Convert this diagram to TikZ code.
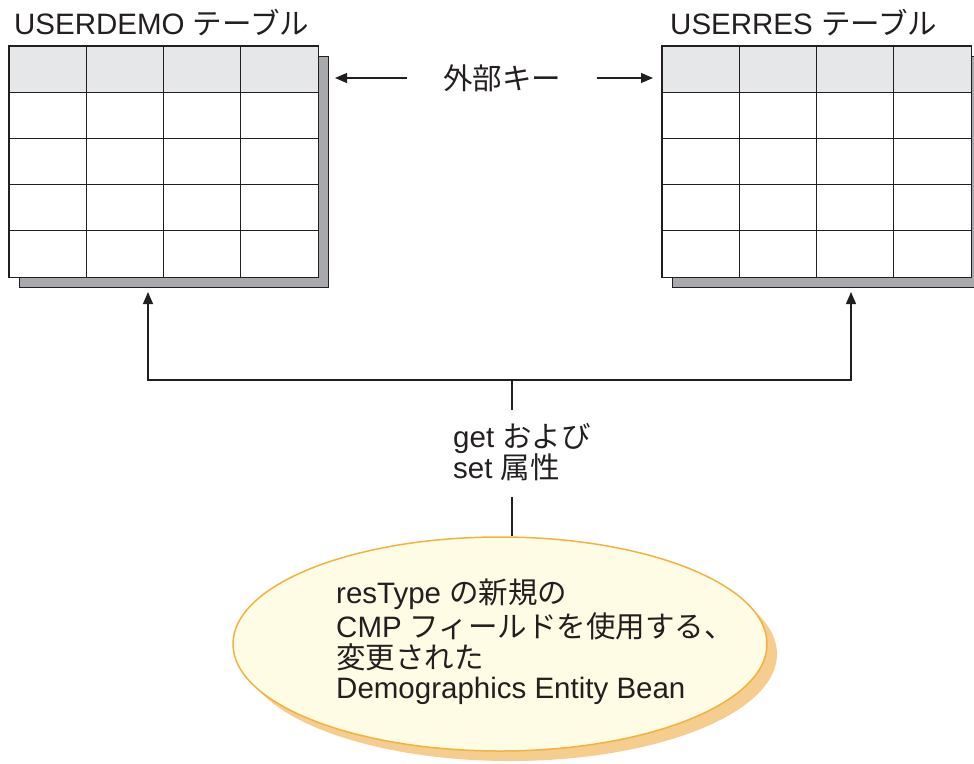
\documentclass[tikz,border=0pt]{standalone}
\usepackage{fontspec}
\setmainfont{Liberation Sans}
\newfontfamily\jp{Noto Sans CJK JP}
\usetikzlibrary{arrows.meta,calc,shapes.geometric}
\definecolor{shadowgray}{HTML}{A7A9AC}
\definecolor{headgray}{HTML}{E6E7E8}
\definecolor{beanfill}{HTML}{FFFCE5}
\definecolor{beanline}{HTML}{F2B33D}
\definecolor{beanshadow}{HTML}{F5CD8E}
\definecolor{ink}{HTML}{231F20}
\begin{document}
\begin{tikzpicture}[x=1pt,y=-1pt,
  every node/.style={text=ink},
  txt/.style={inner sep=0pt, anchor=base west, font=\fontsize{29.5}{33}\selectfont},
  tblbox/.style={inner sep=0pt, minimum width=309pt, minimum height=231pt, anchor=north west},
  tblshadow/.style={tblbox, fill=shadowgray, draw=ink, line width=1pt},
  gridl/.style={draw=ink, line width=1.3pt},
  conn/.style={draw=ink, line width=1.1pt},
  arr/.style={conn, -{Triangle[length=12pt,width=10pt]}},
]
\useasboundingbox (0,0) rectangle (974,763);
\clip (0,0) rectangle (974,763);

% ---------- left table ----------
\node[tblshadow] (shA) at (19,56) {};
\node[tblbox, fill=white] (tA) at (9,46) {};
\fill[headgray] (tA.north west) rectangle ($(tA.north east)+(0,46.2)$);
\foreach \c in {1,2,3}
  \draw[gridl] ($(tA.north west)+(\c*77.25,0)$) -- ($(tA.south west)+(\c*77.25,0)$);
\foreach \r in {1,2,3,4}
  \draw[gridl] ($(tA.north west)+(0,\r*46.2)$) -- ($(tA.north east)+(0,\r*46.2)$);
\draw[gridl] (tA.north west) rectangle (tA.south east);
\node[txt] (titleA) at (14,34) {USERDEMO {\jp テーブル}};

% ---------- right table ----------
\node[tblshadow] (shB) at (672,56) {};
\node[tblbox, fill=white] (tB) at (662,46) {};
\fill[headgray] (tB.north west) rectangle ($(tB.north east)+(0,46.2)$);
\foreach \c in {1,2,3}
  \draw[gridl] ($(tB.north west)+(\c*77.25,0)$) -- ($(tB.south west)+(\c*77.25,0)$);
\foreach \r in {1,2,3,4}
  \draw[gridl] ($(tB.north west)+(0,\r*46.2)$) -- ($(tB.north east)+(0,\r*46.2)$);
\draw[gridl] (tB.north west) rectangle (tB.south east);
\node[txt] (titleB) at (670,34) {USERRES {\jp テーブル}};

% ---------- foreign key ----------
\node[inner ysep=0pt, inner xsep=36pt, font=\fontsize{29.5}{33}\selectfont\jp] (fk) at (502,78) {外部キー};
\coordinate (fkL) at ($(fk.west -| shA.east)+(6,0)$);
\coordinate (fkR) at ($(fk.east -| tB.west)+(-9,0)$);
\draw[arr] (fk.west) -- (fkL);
\draw[arr] (fk.east) -- (fkR);

% ---------- get / set ----------
\coordinate (j) at (512,380);
\coordinate (aL) at (148,292);
\coordinate (aR) at (851,292);
\draw[arr] (j) -| (aL);
\draw[arr] (j) -| (aR);
\node[txt] (l1) at (453,447) {get {\jp および}};
\node[txt] (l2) at (453,478) {set {\jp 属性}};
\coordinate (g1) at (512,410);
\coordinate (g2) at (512,497);
\draw[conn] (j) -- (g1);

% ---------- bean ----------
\node[ellipse, inner sep=0pt, fill=beanshadow, minimum width=534pt, minimum height=214pt] (beansh) at (510,654) {};
\node[ellipse, inner sep=0pt, fill=beanfill, draw=beanline, line width=1.5pt, minimum width=534pt, minimum height=214pt] (bean) at (500,644) {};
\draw[conn] (g2) -- (g2 |- bean.north);
\node[txt] (b1) at (336,603) {resType {\jp の新規の}};
\node[txt] (b2) at (336,637) {CMP {\jp フィールドを使用する、}};
\node[txt] (b3) at (336,668) {\jp 変更された};
\node[txt] (b4) at (336,698) {Demographics Entity Bean};
\end{tikzpicture}
\end{document}
